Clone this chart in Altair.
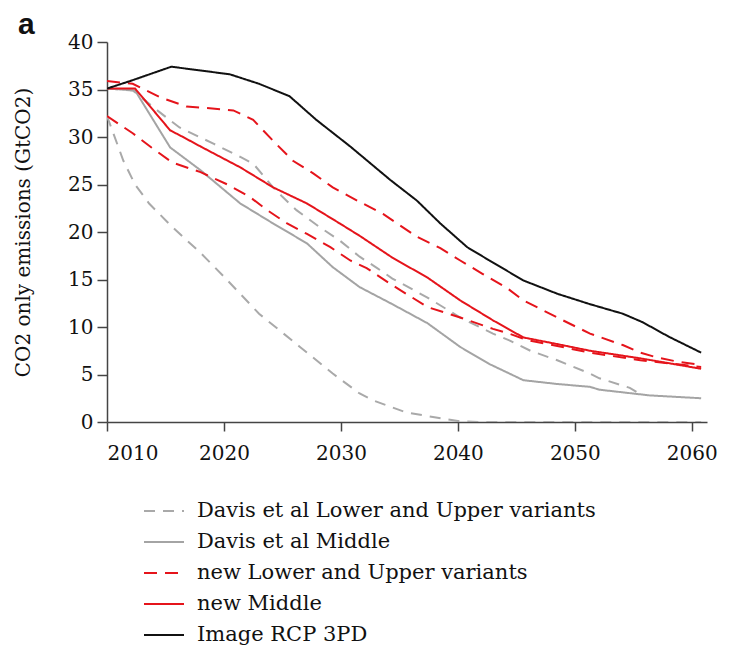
import altair as alt
import pandas as pd

# ---- data ----
rcp_years = [2010, 2012, 2015.5, 2018, 2020.5, 2023, 2025.6, 2027.9, 2030.8, 2034.2, 2036.5,
             2038.5, 2040.8, 2042.7, 2045.6, 2048.5, 2051.3, 2054.1, 2055.8, 2058, 2060.8]
rcp_vals = [35.1, 35.9, 37.4, 37.0, 36.6, 35.6, 34.3, 31.8, 29.0, 25.5, 23.3,
            20.9, 18.4, 17.0, 14.9, 13.5, 12.4, 11.4, 10.5, 9.0, 7.3]

new_up_years = [2010, 2012.2, 2014.5, 2016.8, 2019, 2020.8, 2022.5, 2024.2, 2025.9, 2027.6, 2029.3,
                2031.4, 2033.6, 2036.5, 2038.5, 2040.2, 2042.1, 2044.2, 2045.6, 2048.5, 2051.3,
                2054.1, 2055.6, 2057, 2059, 2060.8]
new_up_vals = [35.9, 35.6, 34.2, 33.2, 33.0, 32.8, 31.8, 29.6, 27.5, 26.2, 24.7,
               23.3, 21.9, 19.5, 18.3, 17.0, 15.6, 14.1, 12.8, 11.0, 9.3,
               8.1, 7.3, 6.8, 6.3, 6.0]

new_mid_years = [2010, 2012.4, 2015.4, 2016.5, 2018, 2021.4, 2024.2, 2027.1, 2029.9, 2031.6, 2034.4,
                 2037.4, 2040.2, 2043, 2045.6, 2048.5, 2051.3, 2055.6, 2058, 2060.8]
new_mid_vals = [35.1, 35.1, 30.7, 30.0, 29.0, 26.8, 24.7, 23.0, 20.9, 19.6, 17.3,
                15.2, 12.8, 10.7, 8.9, 8.2, 7.5, 6.7, 6.2, 5.6]

new_low_years = [2010, 2012.2, 2013.8, 2015.6, 2018, 2020.3, 2022.2, 2023.7, 2025.4, 2027.1, 2029.1,
                 2030.8, 2032.2, 2034.4, 2037.4, 2040.2, 2043, 2044.4, 2046, 2048.5, 2051.3,
                 2055.6, 2060.8]
new_low_vals = [32.2, 30.4, 28.9, 27.3, 26.3, 25.0, 23.7, 22.3, 20.9, 19.8, 18.4,
                17.0, 16.2, 14.4, 12.1, 11.0, 9.8, 9.3, 8.6, 8.0, 7.3,
                6.5, 5.8]

davis_up_years = [2010, 2012.2, 2014.3, 2016.2, 2019.1, 2021.4, 2022.5, 2024.2, 2025, 2026.2, 2028.2,
                  2029.9, 2031.6, 2033.1, 2034.4, 2037.4, 2040.2, 2043, 2044.4, 2046.2, 2048.5,
                  2051.3, 2052.1, 2054.7, 2055.5]
davis_up_vals = [35.1, 34.9, 32.8, 31.0, 29.3, 27.9, 27.2, 24.7, 23.7, 22.3, 20.5,
                 19.1, 17.4, 16.2, 15.1, 13.1, 11.0, 9.3, 8.6, 7.5, 6.5,
                 5.1, 4.6, 3.6, 3.0]

davis_mid_years = [2010, 2012.4, 2015.4, 2018, 2021.4, 2024.2, 2027.1, 2029.3, 2031.6, 2034.4,
                   2037.4, 2040.2, 2042.7, 2045.6, 2048.5, 2051.3, 2052.1, 2056.4, 2060.8]
davis_mid_vals = [35.1, 34.9, 28.9, 26.5, 23.0, 20.9, 18.8, 16.3, 14.2, 12.4,
                  10.4, 7.9, 6.1, 4.4, 4.0, 3.7, 3.4, 2.8, 2.5]

davis_low_years = [2010, 2011.4, 2012.4, 2013.6, 2015.6, 2018, 2020, 2023, 2026.5, 2029.3,
                   2031.6, 2032.7, 2035.6, 2038, 2040, 2042, 2060.8]
davis_low_vals = [32.2, 27.5, 25.0, 23.0, 20.5, 17.8, 15.3, 11.4, 7.9, 5.1,
                  3.0, 2.3, 1.0, 0.5, 0.1, 0.0, 0.0]

groups = ["Davis et al Lower and Upper variants", "Davis et al Middle",
          "new Lower and Upper variants", "new Middle", "Image RCP 3PD"]
colors = ["#a9a9a9", "#a4a4a4", "#e5141b", "#e5141b", "#111111"]
dashes = [[11, 8], [1, 0], [13, 8], [1, 0], [1, 0]]
widths = [2, 2, 2.2, 2, 3]
x_ticks = [2010, 2020, 2030, 2040, 2050, 2060]
y_ticks = [0, 5, 10, 15, 20, 25, 30, 35, 40]

series = [
    ("davis_low", groups[0], davis_low_years, davis_low_vals),
    ("davis_up", groups[0], davis_up_years, davis_up_vals),
    ("davis_mid", groups[1], davis_mid_years, davis_mid_vals),
    ("new_low", groups[2], new_low_years, new_low_vals),
    ("new_up", groups[2], new_up_years, new_up_vals),
    ("new_mid", groups[3], new_mid_years, new_mid_vals),
    ("rcp", groups[4], rcp_years, rcp_vals),
]
rows = []
for i, (lid, grp, ys, vs) in enumerate(series):
    for j, (yr, v) in enumerate(zip(ys, vs)):
        rows.append({"line": lid, "group": grp, "year": yr, "value": v, "order": i, "idx": j})
df = pd.DataFrame(rows)


def legend():
    return alt.Legend(title=None, orient="none", legendX=36, legendY=448,
                      symbolType="stroke", symbolSize=1600,
                      labelFont="DejaVu Serif", labelFontSize=21,
                      labelColor="#111", labelLimit=600, labelOffset=12,
                      rowPadding=0)


lines = alt.Chart(df).mark_line(clip=True).encode(
    x=alt.X("year:Q", scale=alt.Scale(domain=[2010, 2061.3], nice=False, zero=False),
            axis=alt.Axis(values=x_ticks, format="d", title=None, grid=False,
                          tickSize=9, labelPadding=12, labelFontSize=20,
                          labelFont="DejaVu Serif", labelColor="#111",
                          domainColor="#444", tickColor="#444", domainWidth=1.5, tickWidth=1.5)),
    y=alt.Y("value:Q", scale=alt.Scale(domain=[0, 40], nice=False),
            axis=alt.Axis(values=y_ticks, title="CO2 only emissions (GtCO2)", grid=False,
                          tickSize=10, labelPadding=4, labelFontSize=20,
                          labelFont="DejaVu Serif", labelColor="#111",
                          titleFont="DejaVu Serif", titleFontSize=20, titleFontWeight="normal",
                          titleColor="#111", titlePadding=34,
                          domainColor="#444", tickColor="#444", domainWidth=1.5, tickWidth=1.5)),
    color=alt.Color("group:N", scale=alt.Scale(domain=groups, range=colors), legend=legend()),
    strokeDash=alt.StrokeDash("group:N", scale=alt.Scale(domain=groups, range=dashes), legend=legend()),
    strokeWidth=alt.StrokeWidth("group:N", scale=alt.Scale(domain=groups, range=widths), legend=legend()),
    detail="line:N",
    order="idx:Q",
)

label_a = alt.Chart(pd.DataFrame({"t": ["a"]})).mark_text(
    font="Liberation Sans", fontSize=30, fontWeight="bold", color="#111",
    align="left", baseline="middle"
).encode(x=alt.value(-89), y=alt.value(-17), text="t:N")

chart = alt.layer(lines, label_a).properties(
    width=600, height=380,
    padding={"left": 99, "top": 34, "right": 16, "bottom": 227},
    autosize=alt.AutoSizeParams(type="none"),
).configure_view(stroke=None)

chart.save("out.html", embed_options={"renderer": "svg", "actions": False})
